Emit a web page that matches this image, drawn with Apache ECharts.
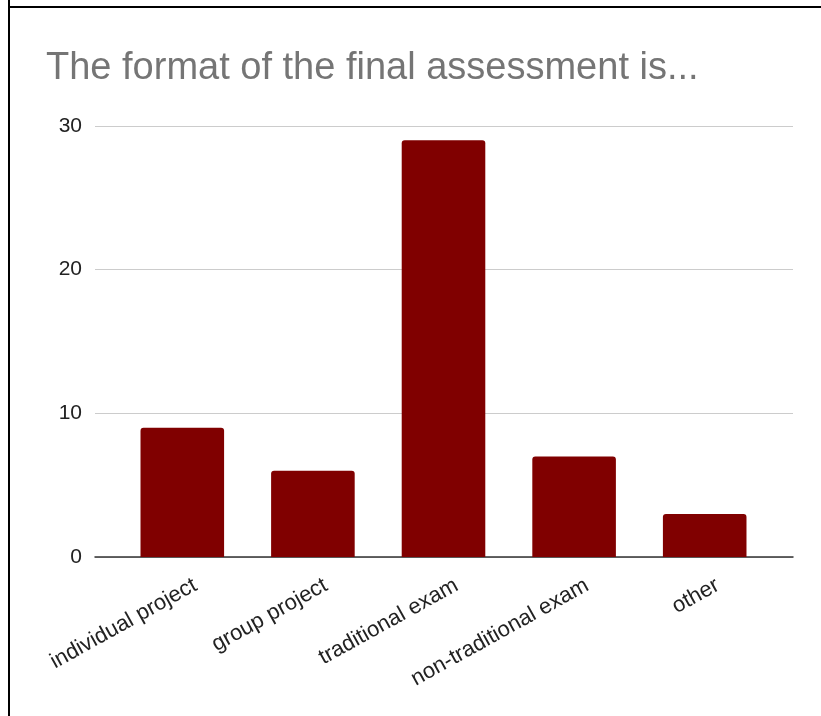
<!DOCTYPE html>
<html>
<head>
<meta charset="utf-8">
<style>
html,body{margin:0;padding:0;background:#fff;}
#chart{width:821px;height:716px;}
</style>
<script src="https://cdn.jsdelivr.net/npm/echarts@6/dist/echarts.min.js"></script>
</head>
<body>
<div id="chart"></div>
<script>
const titleText = "The format of the final assessment is...";
const categories = ["individual project", "group project", "traditional exam", "non-traditional exam", "other"];
const counts = [9, 6, 29, 7, 3];
const yTicks = { min: 0, max: 30, interval: 10 };

const chart = echarts.init(document.getElementById('chart'), null, { renderer: 'canvas' });
const font = '"Liberation Sans", Arial, sans-serif';
const option = {
  backgroundColor: '#fff',
  animation: false,
  title: {
    text: titleText,
    left: 41,
    top: 45,
    textStyle: { fontFamily: font, fontSize: 38, fontWeight: 'normal', color: '#757575' }
  },
  graphic: [
    { type: 'line', shape: { x1: 9, y1: 0, x2: 9, y2: 716 }, style: { stroke: '#000', lineWidth: 2 } },
    { type: 'line', shape: { x1: 8, y1: 7, x2: 821, y2: 7 }, style: { stroke: '#000', lineWidth: 2 } }
  ],
  grid: [
    { left: 117, right: 51, top: 126, bottom: 159 },
    { left: 95, right: 28, top: 126, bottom: 159 },
    { left: 130, right: 38, top: 126, bottom: 159 }
  ],
  xAxis: [
    {
      type: 'category', gridIndex: 0, data: categories,
      axisLine: { show: false }, axisTick: { show: false }, axisLabel: { show: false }
    },
    {
      type: 'value', gridIndex: 1, min: 0, max: 1,
      axisLine: { show: true, onZero: false, lineStyle: { color: '#333', width: 1.5 } },
      axisTick: { show: false }, axisLabel: { show: false }, splitLine: { show: false }
    },
    {
      type: 'category', gridIndex: 2, data: categories,
      axisLine: { show: false }, axisTick: { show: false },
      axisLabel: { rotate: 29, margin: 27, fontFamily: font, fontSize: 22, color: '#222', interval: 0 }
    }
  ],
  yAxis: [
    { type: 'value', gridIndex: 0, min: yTicks.min, max: yTicks.max, interval: yTicks.interval, show: false },
    {
      type: 'value', gridIndex: 1, min: yTicks.min, max: yTicks.max, interval: yTicks.interval,
      axisLine: { show: false }, axisTick: { show: false },
      axisLabel: { margin: 13, fontFamily: font, fontSize: 21, color: '#222' },
      splitLine: { lineStyle: { color: '#cccccc', width: 1 } }
    },
    { type: 'value', gridIndex: 2, min: yTicks.min, max: yTicks.max, show: false }
  ],
  series: [
    {
      type: 'bar', xAxisIndex: 0, yAxisIndex: 0, data: counts,
      barWidth: '64%', z: 5,
      itemStyle: { color: '#800000', borderRadius: [3, 3, 0, 0] }
    }
  ]
};
chart.setOption(option);
</script>
</body>
</html>
